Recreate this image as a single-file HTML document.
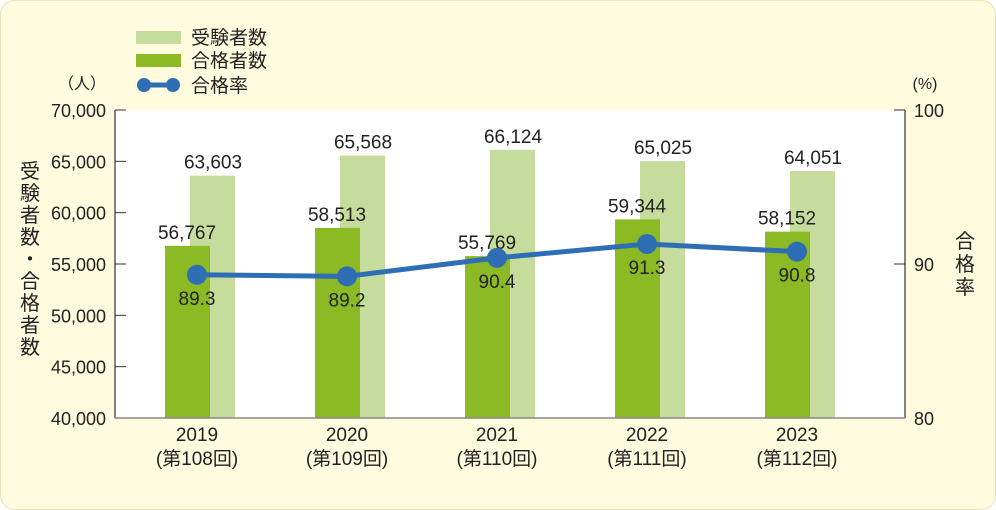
<!DOCTYPE html>
<html><head><meta charset="utf-8"><style>
body{margin:0;width:996px;height:510px;overflow:hidden;background:#fff}
svg{display:block;font-family:"Liberation Sans","Noto Sans CJK JP",sans-serif}
</style></head><body>
<svg width="996" height="510">
<rect x="0.5" y="0.5" width="995" height="509" rx="14" fill="#fefbdf" stroke="#e8e4c0"/>
<rect x="115" y="110" width="790" height="308" fill="#fff"/>
<g id="g"></g>
<g>
<rect x="136" y="31" width="45" height="13" fill="#c5dc9c"/>
<text x="191" y="44" font-size="19" fill="#222">受験者数</text>
<rect x="136" y="54" width="45" height="13" fill="#8cba25"/>
<text x="191" y="67" font-size="19" fill="#222">合格者数</text>
<line x1="144" y1="85" x2="173" y2="85" stroke="#2f6eb5" stroke-width="5"/>
<circle cx="144" cy="85" r="7" fill="#2f6eb5"/>
<circle cx="173" cy="85" r="7" fill="#2f6eb5"/>
<text x="191" y="92" font-size="19" fill="#222">合格率</text>
</g>
<text x="82" y="89" font-size="16" fill="#222" text-anchor="middle">（人）</text>
<text x="925" y="89" font-size="16" fill="#222" text-anchor="middle">(%)</text>
<text font-size="20" fill="#222"><tspan x="20" y="178">受</tspan><tspan x="20" y="200">験</tspan><tspan x="20" y="222">者</tspan><tspan x="20" y="244">数</tspan><tspan x="20" y="266">・</tspan><tspan x="20" y="288">合</tspan><tspan x="20" y="310">格</tspan><tspan x="20" y="332">者</tspan><tspan x="20" y="354">数</tspan></text>
<text font-size="20" fill="#222"><tspan x="955" y="248">合</tspan><tspan x="955" y="271">格</tspan><tspan x="955" y="294">率</tspan></text>
</svg>
<script>
const categories=["2019","2020","2021","2022","2023"];
const sessions=["(第108回)","(第109回)","(第110回)","(第111回)","(第112回)"];
const applicants=[63603,65568,66124,65025,64051];
const passers=[56767,58513,55769,59344,58152];
const rates=[89.3,89.2,90.4,91.3,90.8];
const leftTicks=[40000,45000,50000,55000,60000,65000,70000];
const rightTicks=[80,90,100];
const NS="http://www.w3.org/2000/svg";
const g=document.getElementById('g');
const yL=v=>418-(v-40000)/30000*308;
const yR=v=>418-(v-80)/20*308;
const xC=i=>197+i*150;
function mk(t,a,p){const e=document.createElementNS(NS,t);for(const k in a)e.setAttribute(k,a[k]);(p||g).appendChild(e);return e;}
const fmt=v=>v.toLocaleString('en-US');
mk('line',{x1:115,y1:110,x2:115,y2:418,stroke:'#333','stroke-width':1.2});
mk('line',{x1:905,y1:110,x2:905,y2:418,stroke:'#333','stroke-width':1.2});
leftTicks.forEach(v=>{
 const t=mk('line',{x1:115,y1:yL(v),x2:126,y2:yL(v),stroke:'#333'});
 
 const l=mk('text',{x:106,y:yL(v)+7,'font-size':18,'text-anchor':'end',fill:'#222'});l.textContent=fmt(v);
 
});
rightTicks.forEach(v=>{
 const t=mk('line',{x1:894,y1:yR(v),x2:905,y2:yR(v),stroke:'#333'});
 
 const l=mk('text',{x:914,y:yR(v)+7,'font-size':18,fill:'#222'});l.textContent=v;
 
});
categories.forEach((c,i)=>{
 const x=xC(i);
 const a=mk('rect',{x:x-7,y:yL(applicants[i]),width:45,height:418-yL(applicants[i]),fill:'#c5dc9c'});
 
 const p=mk('rect',{x:x-32,y:yL(passers[i]),width:45,height:418-yL(passers[i]),fill:'#8cba25'});
 
 const la=mk('text',{x:x+16,y:yL(applicants[i])-7,'font-size':19,'text-anchor':'middle',fill:'#222'});la.textContent=fmt(applicants[i]);
 
 const lp=mk('text',{x:x-10,y:yL(passers[i])-7,'font-size':19,'text-anchor':'middle',fill:'#222'});lp.textContent=fmt(passers[i]);
 
 const t1=mk('text',{x:x,y:441,'font-size':19,'text-anchor':'middle',fill:'#222'});t1.textContent=c;
 
 const t2=mk('text',{x:x,y:465,'font-size':19,'text-anchor':'middle',fill:'#222'});t2.textContent=sessions[i];
 
});
mk('line',{x1:115,y1:418,x2:905,y2:418,stroke:'#888','stroke-width':1.5});
const pl=mk('polyline',{points:rates.map((r,i)=>xC(i)+','+yR(r)).join(' '),fill:'none',stroke:'#2f6eb5','stroke-width':5});

rates.forEach((r,i)=>{
 const c=mk('circle',{cx:xC(i),cy:yR(r),r:10,fill:'#2f6eb5'});
 
 const l=mk('text',{x:xC(i),y:yR(r)+30,'font-size':19,'text-anchor':'middle',fill:'#222'});l.textContent=r.toFixed(1);
 
});
</script>
</body></html>
